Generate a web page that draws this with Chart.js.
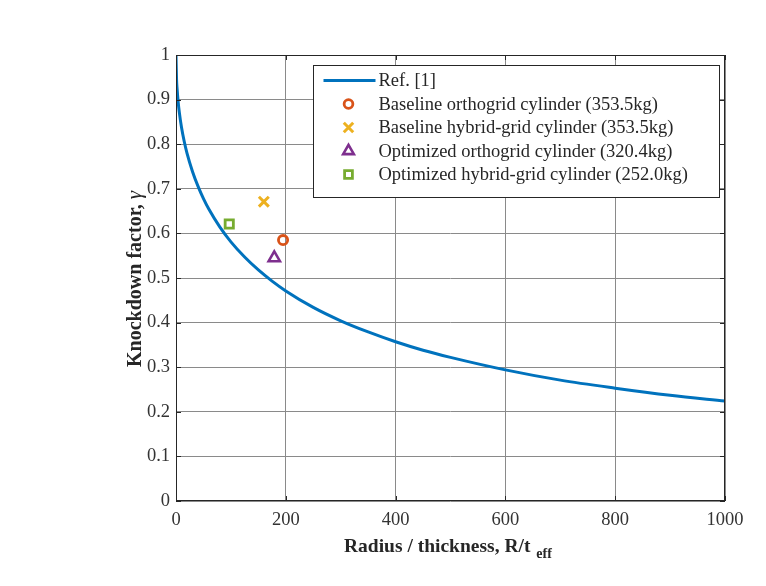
<!DOCTYPE html>
<html>
<head>
<meta charset="utf-8">
<script src="https://cdn.jsdelivr.net/npm/chart.js@4.4.1/dist/chart.umd.min.js"></script>
<style>
html,body{margin:0;padding:0;background:#fff;}
#wrap{width:766px;height:586px;position:relative;}
</style>
</head>
<body>
<div id="wrap"><canvas id="c" width="766" height="586"></canvas></div>
<script>
// ---- data ----
const refRt    = [0, 1, 2, 4, 6, 10, 15, 20, 30, 40, 50, 60, 80, 100, 125, 150, 175, 200, 250, 300, 350, 400, 450, 500, 600, 700, 800, 900, 1000];
const refGamma = [1.0, 0.945, 0.924, 0.894, 0.872, 0.838, 0.806, 0.780, 0.739, 0.706, 0.678, 0.654, 0.614, 0.581, 0.547, 0.518, 0.493, 0.471, 0.434, 0.404, 0.379, 0.357, 0.338, 0.322, 0.294, 0.271, 0.253, 0.237, 0.224];

const seriesLabels = [
  'Ref. [1]',
  'Baseline orthogrid cylinder (353.5kg)',
  'Baseline hybrid-grid cylinder (353.5kg)',
  'Optimized orthogrid cylinder (320.4kg)',
  'Optimized hybrid-grid cylinder (252.0kg)'
];
const pointRt    = [195, 160, 179, 97];
const pointGamma = [0.585, 0.671, 0.545, 0.621];

const xTickLabels = ['0', '200', '400', '600', '800', '1000'];
const yTickLabels = ['0', '0.1', '0.2', '0.3', '0.4', '0.5', '0.6', '0.7', '0.8', '0.9', '1'];
const xTitle = 'Radius / thickness, R/t';
const xTitleSub = 'eff';
const yTitle = 'Knockdown factor, ';
const yTitleSym = 'γ';

// ---- styles ----
const colors = ['#0072BD', '#D95319', '#EDB120', '#7E2F8E', '#77AC30'];
const styles = ['line', 'circle', 'crossRot', 'triangle', 'rect'];
const radii  = [0, 4.6, 7, 6.5, 5.8];
const bw     = [3, 2.8, 3, 2.6, 2.8];
const FONT = '"Liberation Serif", "Times New Roman", serif';
const TXT = '#262626';

const datasets = [{
  label: seriesLabels[0],
  data: refRt.map((x, i) => ({x, y: refGamma[i]})),
  borderColor: colors[0], borderWidth: bw[0], pointRadius: 0,
  cubicInterpolationMode: 'monotone', fill: false, showLine: true
}];
for (let i = 0; i < 4; i++) {
  datasets.push({
    label: seriesLabels[i + 1],
    data: [{x: pointRt[i], y: pointGamma[i]}],
    showLine: false,
    pointStyle: styles[i + 1],
    pointRadius: radii[i + 1],
    pointBorderWidth: bw[i + 1],
    borderColor: colors[i + 1],
    backgroundColor: 'rgba(0,0,0,0)',
    pointBackgroundColor: 'rgba(0,0,0,0)',
    pointBorderColor: colors[i + 1]
  });
}

function drawMarker(ctx, style, x, y, r, color, lw) {
  ctx.save();
  ctx.strokeStyle = color; ctx.lineWidth = lw; ctx.beginPath();
  if (style === 'circle') {
    ctx.arc(x, y, r, 0, Math.PI * 2);
  } else if (style === 'crossRot') {
    const d = r * Math.SQRT1_2;
    ctx.moveTo(x - d, y - d); ctx.lineTo(x + d, y + d);
    ctx.moveTo(x + d, y - d); ctx.lineTo(x - d, y + d);
  } else if (style === 'triangle') {
    ctx.moveTo(x, y - r);
    ctx.lineTo(x + r * Math.sin(Math.PI / 3), y + r / 2);
    ctx.lineTo(x - r * Math.sin(Math.PI / 3), y + r / 2);
    ctx.closePath();
  } else if (style === 'rect') {
    const s = r * Math.SQRT1_2;
    ctx.rect(x - s, y - s, 2 * s, 2 * s);
  }
  ctx.stroke();
  ctx.restore();
}

const decor = {
  id: 'decor',
  afterDatasetsDraw(chart) {
    const {ctx, chartArea: a} = chart;
    ctx.save();
    // axes box
    ctx.strokeStyle = TXT; ctx.lineWidth = 1;
    ctx.strokeRect(a.left + 0.5, a.top + 0.5, a.width - 1, a.height - 1);
    // inward tick marks
    const xs = chart.scales.x, ys = chart.scales.y;
    ctx.beginPath();
    xs.ticks.forEach(t => {
      const px = Math.round(xs.getPixelForValue(t.value)) + 0.5;
      ctx.moveTo(px, a.bottom); ctx.lineTo(px, a.bottom - 5);
      ctx.moveTo(px, a.top); ctx.lineTo(px, a.top + 5);
    });
    ys.ticks.forEach(t => {
      const py = Math.round(ys.getPixelForValue(t.value)) + 0.5;
      ctx.moveTo(a.left, py); ctx.lineTo(a.left + 5, py);
      ctx.moveTo(a.right, py); ctx.lineTo(a.right - 5, py);
    });
    ctx.stroke();

    // legend
    const lx = a.left + 137.5, ly = a.top + 10.5, lw = 406, lh = 132;
    ctx.fillStyle = '#fff';
    ctx.fillRect(lx, ly, lw, lh);
    ctx.strokeStyle = TXT; ctx.lineWidth = 1;
    ctx.strokeRect(lx, ly, lw, lh);
    ctx.font = '18.5px ' + FONT;
    ctx.textBaseline = 'middle'; ctx.textAlign = 'left';
    chart.data.datasets.forEach((ds, i) => {
      const ry = ly + 15 + i * 23.5;
      if (i === 0) {
        ctx.strokeStyle = colors[0]; ctx.lineWidth = 3;
        ctx.beginPath(); ctx.moveTo(lx + 10, ry); ctx.lineTo(lx + 62, ry); ctx.stroke();
      } else {
        drawMarker(ctx, styles[i], lx + 35, ry, radii[i] * 0.95, colors[i], bw[i]);
      }
      ctx.fillStyle = TXT;
      ctx.fillText(ds.label, lx + 65, ry + 1);
    });

    // x title with subscript
    ctx.fillStyle = TXT;
    ctx.font = 'bold 19.5px ' + FONT;
    const mainW = ctx.measureText(xTitle).width;
    ctx.font = 'bold 14px ' + FONT;
    const subW = ctx.measureText(xTitleSub).width;
    const x0 = 344;
    ctx.font = 'bold 19.5px ' + FONT;
    ctx.textBaseline = 'alphabetic';
    ctx.fillText(xTitle, x0, 552);
    ctx.font = 'bold 14px ' + FONT;
    ctx.fillText(xTitleSub, x0 + mainW + 6, 558);

    // y title rotated
    ctx.save();
    ctx.translate(141, 279);
    ctx.rotate(-Math.PI / 2);
    ctx.font = 'bold 20px ' + FONT;
    const w1 = ctx.measureText(yTitle).width;
    ctx.font = 'italic 21px ' + FONT;
    const w2 = ctx.measureText(yTitleSym).width;
    ctx.font = 'bold 20px ' + FONT;
    ctx.fillText(yTitle, -(w1 + w2) / 2, 0);
    ctx.font = 'italic 21px ' + FONT;
    ctx.fillText(yTitleSym, -(w1 + w2) / 2 + w1, 0);
    ctx.restore();
    ctx.restore();
  }
};

new Chart(document.getElementById('c'), {
  type: 'scatter',
  data: {datasets},
  options: {
    responsive: false,
    animation: false,
    devicePixelRatio: 1,
    layout: {padding: {left: 0, top: 55, right: 41, bottom: 0}},
    plugins: {legend: {display: false}, tooltip: {enabled: false}},
    scales: {
      x: {
        type: 'linear', min: 0, max: 1000,
        afterFit: s => { s.height = 85; },
        grid: {color: '#8a8a8a', lineWidth: 1, drawTicks: false},
        border: {display: false},
        ticks: {stepSize: 200, padding: 8, color: '#333', font: {family: FONT, size: 18.5},
                callback: (v, i) => xTickLabels[i]}
      },
      y: {
        type: 'linear', min: 0, max: 1,
        afterFit: s => { s.width = 176; },
        grid: {color: '#8a8a8a', lineWidth: 1, drawTicks: false},
        border: {display: false},
        ticks: {stepSize: 0.1, padding: 6, color: '#333', font: {family: FONT, size: 18.5},
                callback: (v, i) => yTickLabels[i]}
      }
    }
  },
  plugins: [decor]
});
</script>
</body>
</html>
